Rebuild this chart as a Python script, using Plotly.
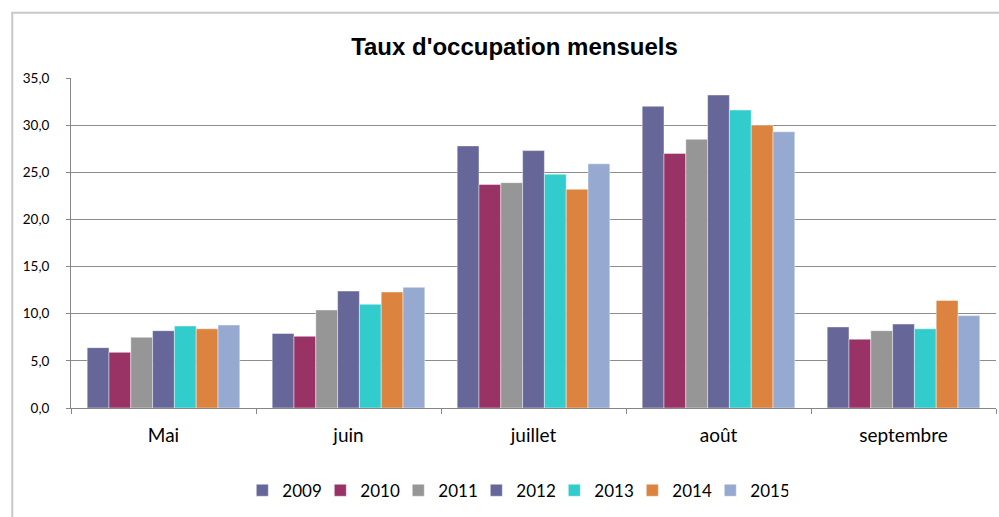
import plotly.graph_objects as go

months = ["Mai", "juin", "juillet", "août", "septembre"]
years = ["2009", "2010", "2011", "2012", "2013", "2014", "2015"]

v2009 = [6.4, 7.9, 27.8, 32.0, 8.6]
v2010 = [5.9, 7.6, 23.7, 27.0, 7.3]
v2011 = [7.5, 10.4, 23.9, 28.5, 8.2]
v2012 = [8.2, 12.4, 27.3, 33.2, 8.9]
v2013 = [8.7, 11.0, 24.8, 31.6, 8.4]
v2014 = [8.4, 12.3, 23.2, 30.0, 11.4]
v2015 = [8.8, 12.8, 25.9, 29.3, 9.8]

series = [v2009, v2010, v2011, v2012, v2013, v2014, v2015]
colors = ["#666699", "#993366", "#969696", "#666699", "#33CCCC", "#DC843F", "#96AAD1"]

FONT = "Lato, 'Open Sans', sans-serif"

fig = go.Figure()
for name, vals, col in zip(years, series, colors):
    fig.add_trace(go.Bar(
        x=months, y=vals, name=name,
        marker=dict(color=col, line=dict(color="rgba(255,255,255,0.55)", width=0.8)),
    ))

# plot area in pixels: x 70.7-995.7, y 78.3-408.3
W, H = 999, 517
L, R, T, B = 70.7, 3.3, 78.3, 108.7
pw, ph = W - L - R, H - T - B

def px_x(x):
    return (x - L) / pw

def px_y(y):
    return (H - B - y) / ph

fig.update_layout(
    width=W, height=H,
    margin=dict(l=L, r=R, t=T, b=B, autoexpand=False),
    paper_bgcolor="white", plot_bgcolor="white",
    separators=", ",
    barmode="group", bargap=0.175, bargroupgap=0,
    title=dict(text="<b>Taux d'occupation mensuels</b>",
               font=dict(family="Liberation Sans, Arial, sans-serif", size=24, color="black"),
               x=0.515, xanchor="center", xref="container",
               y=1 - 47 / H, yanchor="middle", yref="container"),
    font=dict(family=FONT, color="black"),
    showlegend=True,
    legend=dict(orientation="h", x=px_x(515), xanchor="center",
                y=px_y(491), yanchor="middle",
                font=dict(family=FONT, size=17, color="black"),
                traceorder="normal", itemwidth=30, entrywidth=33,
                entrywidthmode="pixels", bgcolor="rgba(0,0,0,0)"),
    xaxis=dict(
        showgrid=False, showline=True, linecolor="#868686", linewidth=1,
        ticks="outside", tickson="boundaries", ticklen=5, tickcolor="#868686",
        tickfont=dict(family=FONT, size=19, color="black"),
        ticklabelstandoff=10,
    ),
    yaxis=dict(
        range=[0, 35], tickvals=[0, 5, 10, 15, 20, 25, 30, 35], tickformat=".1f",
        showgrid=True, gridcolor="#8c8c8c", gridwidth=1,
        showline=True, linecolor="#868686", linewidth=1,
        ticks="outside", ticklen=4, tickcolor="#868686",
        tickfont=dict(family=FONT, size=13.5, color="black"),
        ticklabelstandoff=14, zeroline=False,
    ),
    shapes=[
        dict(type="line", xref="paper", yref="paper",
             x0=px_x(12), x1=px_x(12), y0=px_y(13), y1=px_y(530),
             line=dict(color="#c8c8c8", width=2)),
        dict(type="line", xref="paper", yref="paper",
             x0=px_x(11), x1=px_x(1010), y0=px_y(13), y1=px_y(13),
             line=dict(color="#c8c8c8", width=2)),
    ],
)

fig.write_html("out.html",
               config={"displayModeBar": False},
               post_script="document.body.style.margin='0';document.body.style.overflow='hidden';")
